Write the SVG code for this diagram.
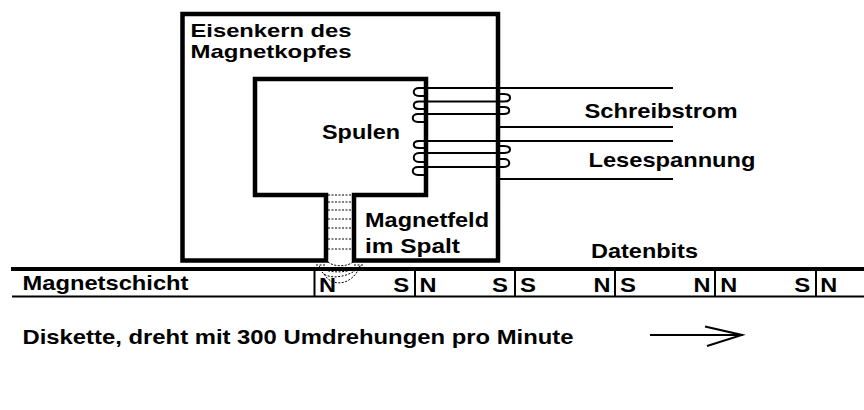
<svg xmlns="http://www.w3.org/2000/svg" width="864" height="410" viewBox="0 0 864 410">
<style>
text{font-family:"Liberation Sans",Arial,sans-serif;font-weight:700;fill:#000;font-size:20.5px}
text.sm{font-size:18.500px}
.core{fill:none;stroke:#000;stroke-width:4.5}
.ln{fill:none;stroke:#000;stroke-width:2}
.coil{fill:none;stroke:#000;stroke-width:2}
.dash{fill:none;stroke:#000;stroke-width:1;stroke-dasharray:2 1.5}
</style>
<rect width="864" height="410" fill="#fff"/>
<g id="core">
<path class="core" d="M326 195H255V79H426V195H354V260.500H498V14H182.500V260.500H326Z"/>
</g>
<g id="connectors">
<path class="ln" d="M426 88H673M426 101.500H500M426 114H500M498 127H673M426 141H673M426 153H500M426 167H500M498 179H673"/>
<path class="coil" d="M426 88H419C412 88 412 96 419 96H426M426 101.500H419C412 101.500 412 109 419 109H426M425 114H418C411 114 411 122 418 122H425"/>
<path class="coil" d="M426 141H419C412 141 412 148 419 148H426M426 153H419C412 153 412 162 419 162H426M425 167H418C411 167 411 175 418 175H425"/>
<path class="coil" d="M498 94H504C512 94 512 101.500 504 101.500H498M498 107H504C511 107 511 114 504 114H498"/>
<path class="coil" d="M498 146H504C512 146 512 153 504 153H498M498 159H504C511 159 511 167 504 167H498"/>
<path class="dash" d="M328 195H353M328 202H353M328 210H353M328 219H353M328 228H353M328 239H353M328 249H353"/>
<path class="dash" d="M328 262C334 267 347 267 353 262M316 265H326M354 265H364M322 272C328 280 348 278 360 267M324 274C332 288 352 285 359 268"/>
<path class="dash" d="M319 266C326 274 350 274 362 265"/>
<path class="ln" d="M650 335H743"/>
<path class="ln" d="M705 326.500L742 335L707 346"/>
</g>
<g id="disk">
<path d="M11 269H864" fill="none" stroke="#000" stroke-width="4"/>
<path class="ln" d="M12 296.500H864"/>
<path class="ln" d="M314.500 269V296M415 269V296M515 269V296M615 269V296M715 269V296M816 269V296"/>
</g>
<g id="labels">
<text class="sm" x="190.500" y="37" textLength="161" lengthAdjust="spacingAndGlyphs">Eisenkern des</text>
<text class="sm" x="190.500" y="58" textLength="161" lengthAdjust="spacingAndGlyphs">Magnetkopfes</text>
<text x="322" y="138.500" textLength="78" lengthAdjust="spacingAndGlyphs">Spulen</text>
<text x="584.500" y="117.500" textLength="153" lengthAdjust="spacingAndGlyphs">Schreibstrom</text>
<text x="588.500" y="167" textLength="167" lengthAdjust="spacingAndGlyphs">Lesespannung</text>
<text x="365" y="227" textLength="124" lengthAdjust="spacingAndGlyphs">Magnetfeld</text>
<text x="365" y="253" textLength="95" lengthAdjust="spacingAndGlyphs">im Spalt</text>
<text x="591" y="258" textLength="107" lengthAdjust="spacingAndGlyphs">Datenbits</text>
<text x="22.500" y="290" textLength="166" lengthAdjust="spacingAndGlyphs">Magnetschicht</text>
<text x="22.500" y="344" textLength="551" lengthAdjust="spacingAndGlyphs">Diskette, dreht mit 300 Umdrehungen pro Minute</text>
<text x="319" y="291.500" textLength="17" lengthAdjust="spacingAndGlyphs">N</text><text x="393.200" y="291.500" textLength="16" lengthAdjust="spacingAndGlyphs">S</text>
<text x="419.500" y="291.500" textLength="17" lengthAdjust="spacingAndGlyphs">N</text><text x="492" y="291.500" textLength="16" lengthAdjust="spacingAndGlyphs">S</text>
<text x="520" y="291.500" textLength="16" lengthAdjust="spacingAndGlyphs">S</text><text x="593.500" y="291.500" textLength="17" lengthAdjust="spacingAndGlyphs">N</text>
<text x="620" y="291.500" textLength="16" lengthAdjust="spacingAndGlyphs">S</text><text x="693.600" y="291.500" textLength="17" lengthAdjust="spacingAndGlyphs">N</text>
<text x="720.300" y="291.500" textLength="17" lengthAdjust="spacingAndGlyphs">N</text><text x="794.200" y="291.500" textLength="16" lengthAdjust="spacingAndGlyphs">S</text>
<text x="820.300" y="291.500" textLength="17" lengthAdjust="spacingAndGlyphs">N</text>
</g>
</svg>
